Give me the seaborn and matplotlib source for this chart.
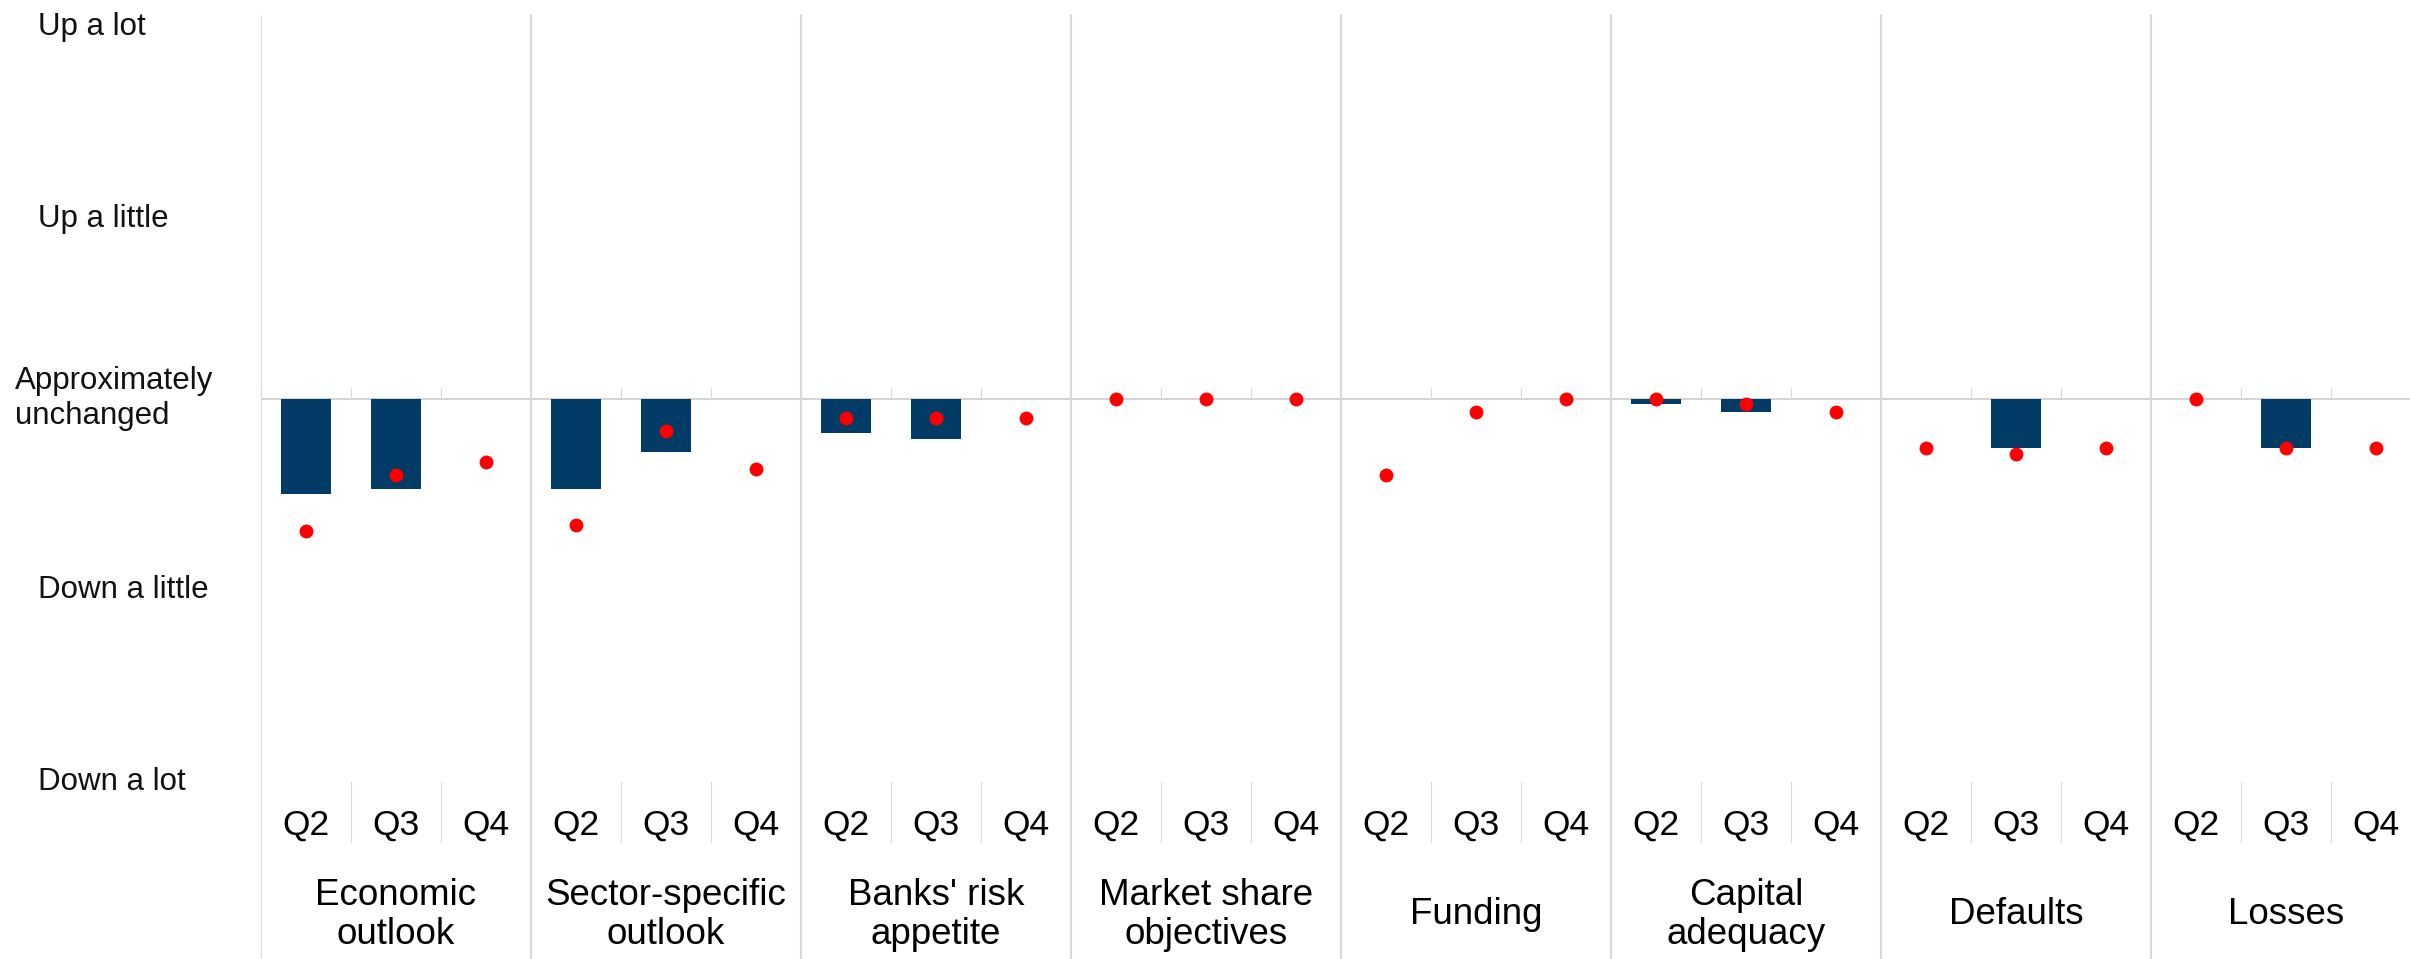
import numpy as np
import pandas as pd
import matplotlib
matplotlib.use('Agg')
import matplotlib.pyplot as plt
import matplotlib.transforms as mtransforms
import seaborn as sns

# Data
groups = ["Economic\noutlook", "Sector-specific\noutlook",
          "Banks' risk\nappetite", "Market share\nobjectives",
          "Funding", "Capital\nadequacy", "Defaults", "Losses"]
quarters = ["Q2", "Q3", "Q4"]

bars_q2 = [-0.50, -0.47, -0.18, 0.0, 0.0, -0.03, 0.0, 0.0]
bars_q3 = [-0.47, -0.28, -0.21, 0.0, 0.0, -0.07, -0.26, -0.26]
bars_q4 = [np.nan] * 8

dots_q2 = [-0.69, -0.66, -0.10, 0.0, -0.40, 0.0, -0.26, 0.0]
dots_q3 = [-0.40, -0.17, -0.10, 0.0, -0.07, -0.03, -0.29, -0.26]
dots_q4 = [-0.33, -0.37, -0.10, 0.0, 0.0, -0.07, -0.26, -0.26]

level_values = [2, 1, 0, -1, -2]
level_labels = ["Up a lot", "Up a little",
                "Approximately\nunchanged",
                "Down a little", "Down a lot"]

# Long-form table
rows = []
for i, g in enumerate(groups):
    for q, b, d in zip(quarters,
                       [bars_q2[i], bars_q3[i], bars_q4[i]],
                       [dots_q2[i], dots_q3[i], dots_q4[i]]):
        rows.append({'slot': f'{g}|{q}', 'group': g,
                     'quarter': q, 'bar': b, 'dot': d})
df = pd.DataFrame(rows)
order = df['slot'].tolist()
n = len(order)

sns.set_style('white')
plt.rcParams['font.family'] = ['Liberation Sans', 'DejaVu Sans']
plt.rcParams['text.color'] = 'black'
plt.rcParams['xtick.color'] = 'black'

W, H = 2410, 959
fig = plt.figure(figsize=(W / 100, H / 100), dpi=100)
ax = fig.add_axes([261 / W, 1 - 782 / H, 2160 / W, 767 / H])

sns.barplot(data=df, x='slot', y='bar', order=order,
            color='#023b66', saturation=1, width=0.55,
            errorbar=None, linewidth=0, ax=ax, zorder=2)
sns.stripplot(data=df, x='slot', y='dot', order=order,
              color='#ff0000', jitter=False, size=10,
              linewidth=0, ax=ax, zorder=4)

ax.set_xlim(-0.5, n - 0.5)
ax.set_ylim(-2, 2)
ax.set_xlabel('')
ax.set_ylabel('')
for s in ax.spines.values():
    s.set_visible(False)

grey = '#d9d9d9'
# zero line
ax.axhline(0, color='#c8c8c8', lw=1.1, zorder=1)

# separators
xt = ax.get_xaxis_transform()
bounds = np.arange(-0.5, n, 1.0)
for k, b in enumerate(bounds):
    if k % 3 == 0:
        lw = 0.8 if k == 0 else 1.5
        ax.plot([b, b], [-0.24, 1.0], transform=xt, color=grey,
                lw=lw, clip_on=False, zorder=1)
    else:
        ax.plot([b, b], [-0.078, 0.0], transform=xt, color=grey,
                lw=0.8, clip_on=False, zorder=1)
    # small ticks above the zero line
    ax.plot([b, b], [0, 0.057], color=grey, lw=0.8, zorder=1)

# y ticks
ax.set_yticks(level_values)
ax.tick_params(axis='y', direction='in', length=8, width=0.8,
               color=grey, labelleft=False)

# quarter labels
ax.set_xticks(range(n))
ax.set_xticklabels(df['quarter'], fontsize=25.5, color='black')
ax.tick_params(axis='x', length=0, pad=19)

# group labels
for i, g in enumerate(groups):
    ax.text(i * 3 + 1, -0.173, g, transform=xt, ha='center',
            va='center', fontsize=26.5, linespacing=1.15,
            color='black')

# level labels
bt = mtransforms.blended_transform_factory(fig.transFigure, ax.transData)
for v, lab in zip(level_values, level_labels):
    x0 = 15 / W if '\n' in lab else 38 / W
    yv = v - 0.065 if v > 0 else v
    fig.text(x0, yv, lab, transform=bt, ha='left', va='center',
             fontsize=22.5, linespacing=1.2, color='#111111')

fig.savefig('out.png', dpi=100)
